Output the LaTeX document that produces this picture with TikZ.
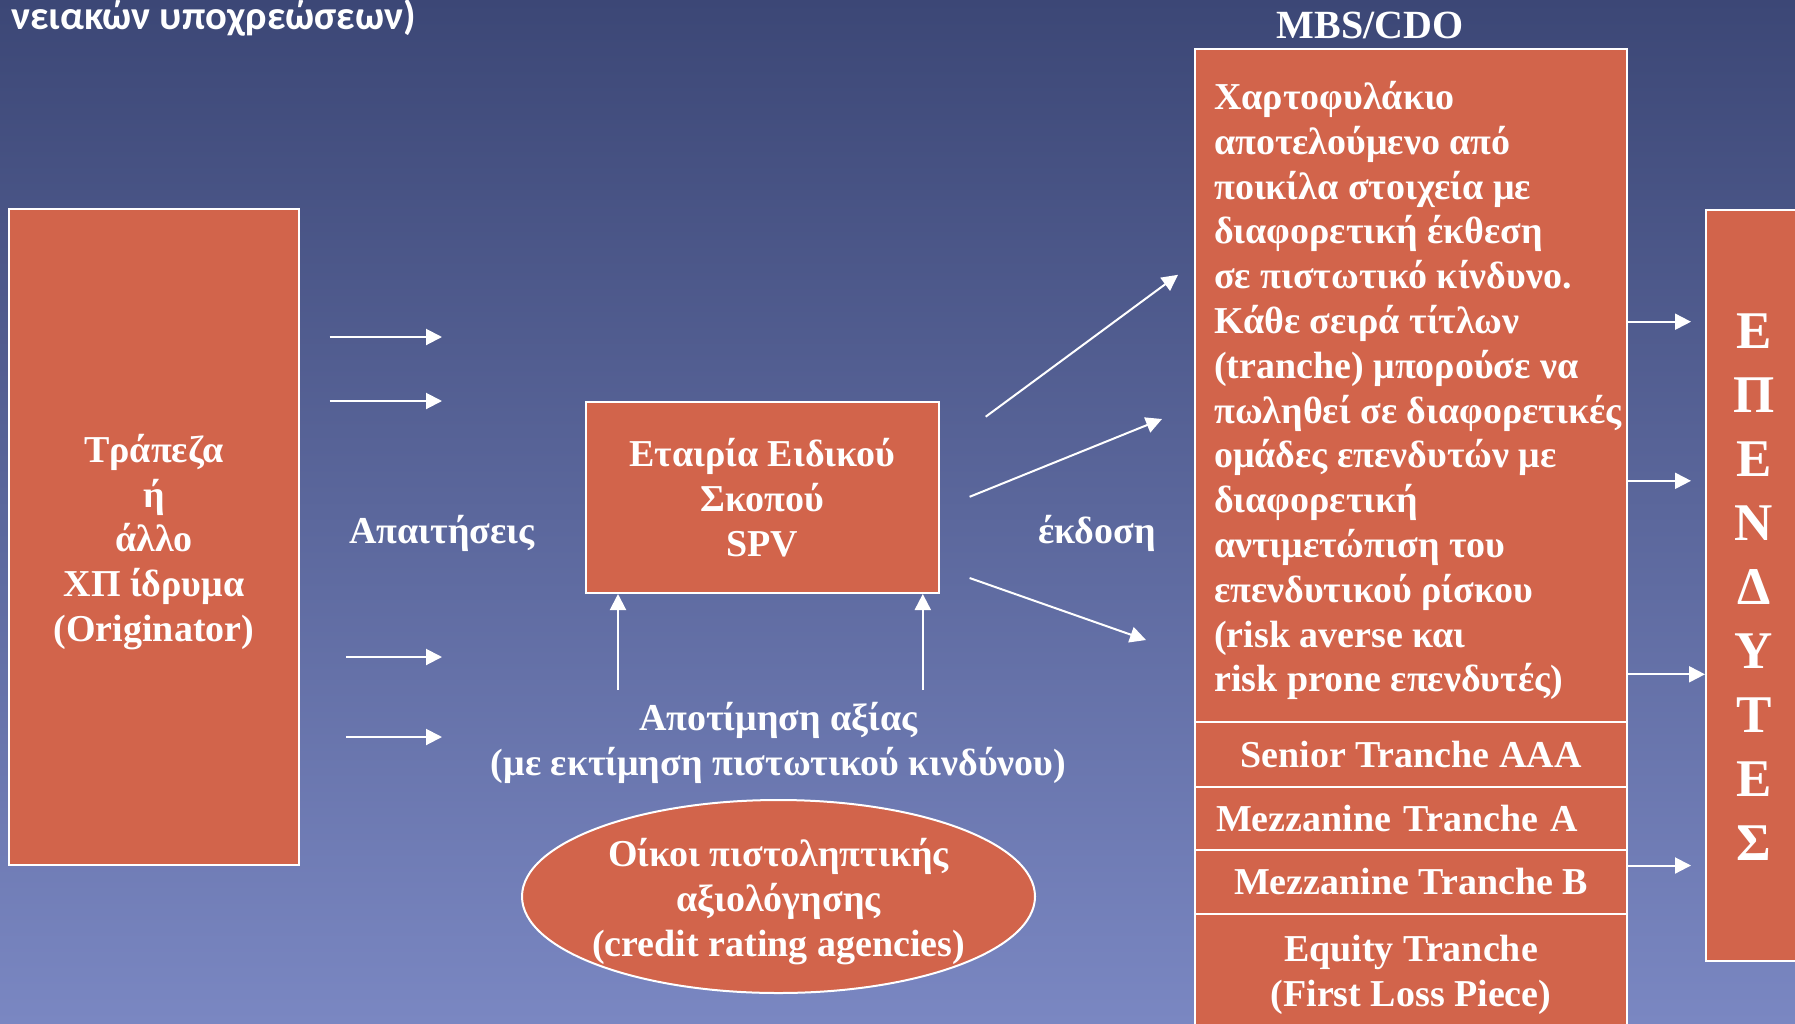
\documentclass[tikz,border=0pt]{standalone}
\usepackage{fontspec}
\setmainfont{Liberation Serif}
\newfontfamily\hdrfont{Carlito}
\usetikzlibrary{arrows.meta,shapes.geometric}
\definecolor{boxfill}{RGB}{210,100,75}
\definecolor{bgtop}{RGB}{60,71,118}
\definecolor{bgmid}{RGB}{100,113,166}
\definecolor{bgbot}{RGB}{122,135,194}
\begin{document}
\begin{tikzpicture}[x=1pt,y=-1pt,
  box/.style={draw=white, line width=2pt, fill=boxfill, text=white, inner sep=0pt,
    font=\bfseries\fontsize{38}{44.8}\selectfont, align=center},
  lbl/.style={text=white, inner sep=0pt, font=\bfseries\fontsize{38}{44.8}\selectfont, align=center},
  arr/.style={draw=white, line width=2pt, -{Triangle[length=16pt,width=16pt]}},
]
\useasboundingbox (0,0) rectangle (1795,1023);
\clip (0,0) rectangle (1795,1023);
\shade[top color=bgtop, middle color=bgmid, bottom color=bgbot] (0,0) rectangle (1795,1023);

% header fragment
\node[anchor=base east, text=white, inner sep=0pt, font=\hdrfont\bfseries\fontsize{40.5}{48}\selectfont] (hdr) at (416,29) {νειακών υποχρεώσεων)};

% originator
\node[box, minimum width=290, minimum height=656] (orig) at (154,537) {};
\node[lbl] (origtxt) at (154,542) {Τράπεζα\\ή\\άλλο\\ΧΠ ίδρυμα\\(Originator)};

% SPV
\node[box, minimum width=352.7, minimum height=191.2] (spv) at (762.3,497.4)
  {Εταιρία Ειδικού\\Σκοπού\\SPV};

% rating agencies
\node[draw=white, line width=2pt, fill=boxfill, ellipse, inner sep=0pt,
  minimum width=513, minimum height=193] (cra) at (778.5,896.5) {};
\node[lbl] (cratxt) at (778.5,901.5) {Οίκοι πιστοληπτικής\\αξιολόγησης\\(credit rating agencies)};

% MBS/CDO
\node[lbl, anchor=base, font=\bfseries\fontsize{40}{46}\selectfont] (mbstitle) at (1370,38) {MBS/CDO};
\node[box, minimum width=432, minimum height=673.4] (mbs) at (1411,385.7) {};
\node[lbl, align=left, anchor=north west] (mbstxt) at (1214,81)
  {Χαρτοφυλάκιο\\αποτελούμενο από\\ποικίλα στοιχεία με\\διαφορετική έκθεση\\σε πιστωτικό κίνδυνο.\\Κάθε σειρά τίτλων\\(tranche) μπορούσε να\\πωληθεί σε διαφορετικές\\ομάδες επενδυτών με\\διαφορετική\\αντιμετώπιση του\\επενδυτικού ρίσκου\\(risk averse και\\risk prone επενδυτές)};
\node[box, minimum width=432, minimum height=64.1] (sen) at (1411,754.5) {Senior Tranche AAA};
\node[box, minimum width=432, minimum height=63, text width=390, align=left] (mza) at (1411,818) {Mezzanine Tranche A};
\node[box, minimum width=432, minimum height=64] (mzb) at (1411,881.5) {Mezzanine Tranche B};
\node[box, minimum width=432, minimum height=115] (eq) at (1411,971) {};
\node[lbl] (eqtxt) at (1411,974.5) {Equity Tranche\\(First Loss Piece)};

% investors
\node[box, minimum width=96, minimum height=751.5] (inv) at (1754,585.3) {};
\node[lbl, font=\bfseries\fontsize{53}{64}\selectfont] (invtxt) at (1754,587.5)
  {Ε\\Π\\Ε\\Ν\\Δ\\Υ\\Τ\\Ε\\Σ};

% labels
\node[lbl, anchor=base] (apait) at (442,543) {Απαιτήσεις};
\node[lbl, anchor=base] (ekd) at (1097,543) {έκδοση};
\node[lbl] (apot) at (778.5,743) {Αποτίμηση αξίας\\(με εκτίμηση πιστωτικού κινδύνου)};

% arrow end points
\coordinate (l1s) at (329.5,337);  \coordinate (l1e) at (442,337);
\coordinate (l2s) at (329.5,401);  \coordinate (l2e) at (442,401);
\coordinate (l3s) at (346,657);    \coordinate (l3e) at (442,657);
\coordinate (l4s) at (346,737);    \coordinate (l4e) at (442,737);
\coordinate (u1s) at (618,690);
\coordinate (u2s) at (922.8,690);
\coordinate (d1s) at (985.7,416.7); \coordinate (d1e) at (1178,274.8);
\coordinate (d2s) at (969.6,496.8); \coordinate (d2e) at (1162,419);
\coordinate (d3s) at (969.6,578);   \coordinate (d3e) at (1146,640);
\coordinate (r1e) at (1691,321.7);
\coordinate (r2e) at (1691,480.8);
\coordinate (r3e) at (1706,674.3);
\coordinate (r4e) at (1691,865.5);

\draw[arr] (l1s) -- (l1e);
\draw[arr] (l2s) -- (l2e);
\draw[arr] (l3s) -- (l3e);
\draw[arr] (l4s) -- (l4e);
\draw[arr] (u1s) -- (u1s |- spv.south);
\draw[arr] (u2s) -- (u2s |- spv.south);
\draw[arr] (d1s) -- (d1e);
\draw[arr] (d2s) -- (d2e);
\draw[arr] (d3s) -- (d3e);
\draw[arr] (mbs.east |- r1e) -- (r1e);
\draw[arr] (mbs.east |- r2e) -- (r2e);
\draw[arr] (mbs.east |- r3e) -- (inv.west |- r3e);
\draw[arr] (mzb.east |- r4e) -- (r4e);
\end{tikzpicture}
\end{document}
